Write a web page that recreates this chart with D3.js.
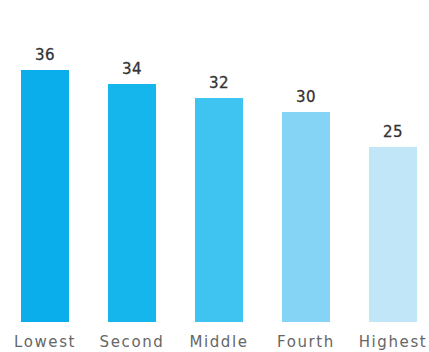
<!DOCTYPE html>
<html>
<head>
<meta charset="utf-8">
<script src="https://cdn.jsdelivr.net/npm/d3@7"></script>
<style>
  html, body { margin: 0; padding: 0; background: #fff; }
  svg { display: block; }
</style>
</head>
<body>
<div id="chart"></div>
<script>
/* Data */
const categories = ["Lowest", "Second", "Middle", "Fourth", "Highest"]
const values = [36, 34, 32, 30, 25]
const barColors = ["#0aaeea", "#14b6ec", "#3fc3f0", "#85d4f5", "#c0e6f8"]

/* Layout */
const WIDTH = 429
const HEIGHT = 352
const BASELINE = 322

const svg = d3.select("#chart")
              .append("svg")
              .attr("width", WIDTH)
              .attr("height", HEIGHT);

const xScale = d3.scaleBand()
                 .domain(categories)
                 .range([21, 417])
                 .paddingInner(0.448)
                 .paddingOuter(0);
const yScale = d3.scaleLinear()
                 .domain([0, 36])
                 .range([BASELINE, 70]);

svg.selectAll("rect.bar")
   .data(values)
   .enter()
   .append("rect")
   .attr("class", "bar")
   .attr("x", (d, i) => xScale(categories[i]))
   .attr("y", (d) => yScale(d))
   .attr("width", xScale.bandwidth())
   .attr("height", (d) => BASELINE - yScale(d))
   .attr("fill", (d, i) => barColors[i]);

/* value labels */
svg.selectAll("text.value")
   .data(values)
   .enter()
   .append("text")
   .attr("class", "value")
   .attr("x", (d, i) => xScale(categories[i]) + xScale.bandwidth() / 2)
   .attr("y", (d) => yScale(d) - 10)
   .attr("text-anchor", "middle")
   .attr("font-family", "DejaVu Sans, sans-serif")
   .attr("font-size", 15)
   .attr("letter-spacing", 0.5)
   .attr("fill", "#333")
   .attr("stroke", "#333")
   .attr("stroke-width", 0.3)
   .text((d) => d);

/* category axis */
const xAxis = d3.axisBottom(xScale).tickSize(0).tickPadding(0);
const axisG = svg.append("g")
                 .attr("transform", "translate(0," + BASELINE + ")")
                 .call(xAxis);
axisG.select(".domain").remove();
axisG.selectAll("text")
     .attr("y", 25)
     .attr("dy", 0)
     .attr("font-family", "DejaVu Sans, sans-serif")
     .attr("font-size", 15)
     .attr("letter-spacing", 1.6)
     .attr("fill", "#666");
</script>
</body>
</html>
